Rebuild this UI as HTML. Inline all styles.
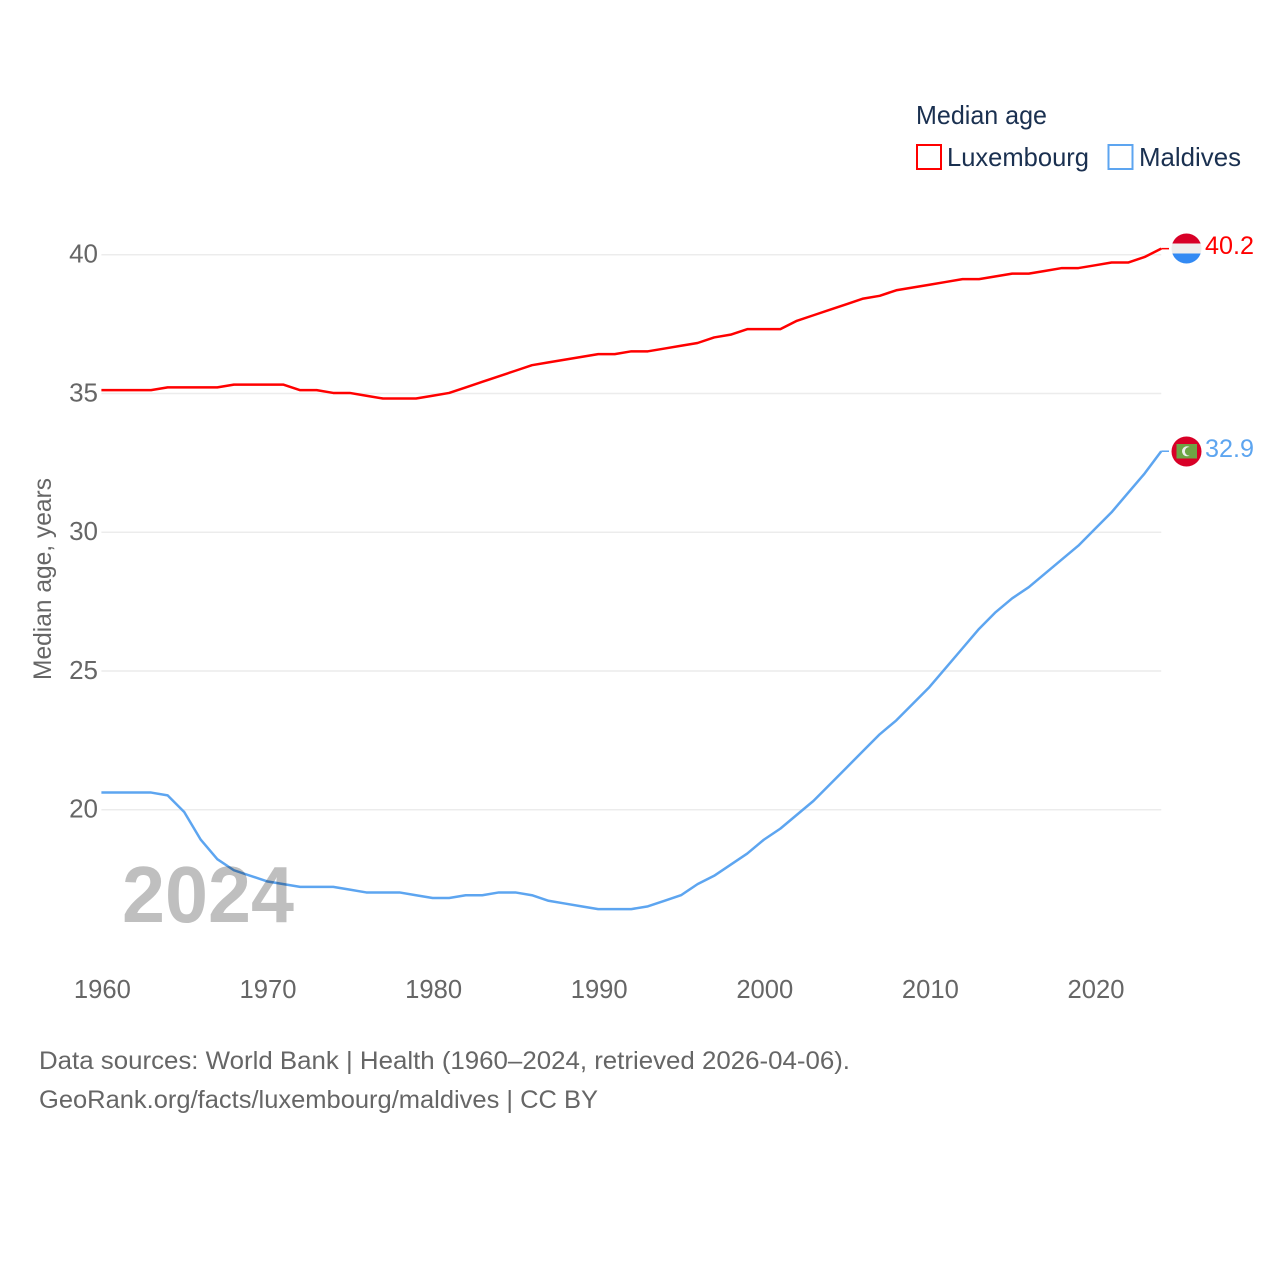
<!DOCTYPE html>
<html lang="en">
<head>
<meta charset="utf-8">
<title>Median age: Luxembourg and Maldives</title>
<style>
html,body{margin:0;padding:0;background:#fff;width:1280px;height:1280px;overflow:hidden}
svg{display:block}
text{font-family:"Liberation Sans",sans-serif}
</style>
</head>
<body>
<svg id="chart" width="1280" height="1280" viewBox="0 0 1280 1280" xmlns="http://www.w3.org/2000/svg">
  <rect width="1280" height="1280" fill="#fff"/>
  <g id="grid"></g>
  <g id="yticks"></g>
  <g id="xticks"></g>
  <text transform="translate(51,680) rotate(-90)" font-size="25" fill="#666666" textLength="202" lengthAdjust="spacingAndGlyphs">Median age, years</text>
  <g id="series"></g>
  <text x="122" y="922" font-size="80" font-weight="700" fill="#000" fill-opacity="0.25" textLength="172" lengthAdjust="spacingAndGlyphs">2024</text>

  <g id="flag-lu">
    <clipPath id="clip-lu"><circle cx="1186.500" cy="248.500" r="15"/></clipPath>
    <g clip-path="url(#clip-lu)">
      <rect x="1171" y="233" width="31" height="10.500" fill="#d80027"/>
      <rect x="1171" y="243.500" width="31" height="10" fill="#eeeeee"/>
      <rect x="1171" y="253.500" width="31" height="10.500" fill="#338af3"/>
    </g>
  </g>
  <g id="flag-mv">
    <circle cx="1186.500" cy="451.500" r="15" fill="#d80027"/>
    <rect x="1176.500" y="444" width="20.500" height="14.500" fill="#6da544"/>
    <circle cx="1187" cy="451.300" r="5" fill="#eeeeee"/>
    <circle cx="1189.200" cy="451.300" r="4.300" fill="#6da544"/>
  </g>
  <text id="value-lu" x="1205" y="254" font-size="25" fill="#ff0000" textLength="49" lengthAdjust="spacingAndGlyphs">40.2</text>
  <text id="value-mv" x="1205" y="457" font-size="25" fill="#5da5f0" textLength="49" lengthAdjust="spacingAndGlyphs">32.9</text>

  <g>
    <text x="916" y="124" font-size="26" fill="#1a3050" textLength="131" lengthAdjust="spacingAndGlyphs">Median age</text>
    <rect x="917" y="145" width="24" height="24" fill="#fff" stroke="#ff0000" stroke-width="2"/>
    <text x="947" y="166" font-size="26" fill="#1a3050" textLength="142" lengthAdjust="spacingAndGlyphs">Luxembourg</text>
    <rect x="1108.500" y="145" width="24" height="24" fill="#fff" stroke="#5da5f0" stroke-width="2"/>
    <text x="1139" y="166" font-size="26" fill="#1a3050" textLength="102" lengthAdjust="spacingAndGlyphs">Maldives</text>
  </g>

  <g>
    <text x="39" y="1069" font-size="25" fill="#666666" textLength="811" lengthAdjust="spacingAndGlyphs">Data sources: World Bank | Health (1960–2024, retrieved 2026-04-06).</text>
    <text x="39" y="1108" font-size="25" fill="#666666" textLength="559" lengthAdjust="spacingAndGlyphs">GeoRank.org/facts/luxembourg/maldives | CC BY</text>
  </g>
</svg>

<script>
const years = [1960,1961,1962,1963,1964,1965,1966,1967,1968,1969,1970,1971,1972,1973,1974,1975,1976,1977,1978,1979,1980,1981,1982,1983,1984,1985,1986,1987,1988,1989,1990,1991,1992,1993,1994,1995,1996,1997,1998,1999,2000,2001,2002,2003,2004,2005,2006,2007,2008,2009,2010,2011,2012,2013,2014,2015,2016,2017,2018,2019,2020,2021,2022,2023,2024];
const luxembourg = [35.1,35.1,35.1,35.1,35.2,35.2,35.2,35.2,35.3,35.3,35.3,35.3,35.1,35.1,35.0,35.0,34.9,34.8,34.8,34.8,34.9,35.0,35.2,35.4,35.6,35.8,36.0,36.1,36.2,36.3,36.4,36.4,36.5,36.5,36.6,36.7,36.8,37.0,37.1,37.3,37.3,37.3,37.6,37.8,38.0,38.2,38.4,38.5,38.7,38.8,38.9,39.0,39.1,39.1,39.2,39.3,39.3,39.4,39.5,39.5,39.6,39.7,39.7,39.9,40.2];
const maldives = [20.6,20.6,20.6,20.6,20.5,19.9,18.9,18.2,17.8,17.6,17.4,17.3,17.2,17.2,17.2,17.1,17.0,17.0,17.0,16.9,16.8,16.8,16.9,16.9,17.0,17.0,16.9,16.7,16.6,16.5,16.4,16.4,16.4,16.5,16.7,16.9,17.3,17.6,18.0,18.4,18.9,19.3,19.8,20.3,20.9,21.5,22.1,22.7,23.2,23.8,24.4,25.1,25.8,26.5,27.1,27.6,28.0,28.5,29.0,29.5,30.1,30.7,31.4,32.1,32.9];
const yTickValues = [20,25,30,35,40];
const xTickValues = [1960,1970,1980,1990,2000,2010,2020];

const NS = 'http://www.w3.org/2000/svg';
const xScale = function (year) { return 101.4 + (year - 1960) * 16.56; };
const yScale = function (value) { return 254.7 + (40 - value) * 27.75; };
const lineOffset = -0.5;

const grid = document.getElementById('grid');
const yticks = document.getElementById('yticks');
const xticks = document.getElementById('xticks');
const series = document.getElementById('series');

yTickValues.forEach(function (v) {
  const line = document.createElementNS(NS, 'line');
  
  
  line.setAttribute('x1', xScale(1960));
  line.setAttribute('x2', xScale(2024));
  line.setAttribute('y1', yScale(v));
  line.setAttribute('y2', yScale(v));
  line.setAttribute('stroke', '#ececec');
  line.setAttribute('stroke-width', '1.500');
  grid.appendChild(line);

  const label = document.createElementNS(NS, 'text');
  
  
  label.setAttribute('x', 98);
  label.setAttribute('y', yScale(v) + 8);
  label.setAttribute('text-anchor', 'end');
  label.setAttribute('font-size', '26');
  label.setAttribute('fill', '#666666');
  label.textContent = v;
  yticks.appendChild(label);
});

xTickValues.forEach(function (y) {
  const label = document.createElementNS(NS, 'text');
  
  
  label.setAttribute('x', xScale(y) + 1);
  label.setAttribute('y', 998);
  label.setAttribute('text-anchor', 'middle');
  label.setAttribute('font-size', '25.600');
  label.setAttribute('fill', '#666666');
  label.textContent = y;
  xticks.appendChild(label);
});

function drawSeries(values, color, key) {
  const points = values.map(function (v, i) { return xScale(years[i]).toFixed(2) + ',' + (yScale(v) + lineOffset).toFixed(2); });
  const path = document.createElementNS(NS, 'polyline');
  
  
  path.setAttribute('points', points.join(' '));
  path.setAttribute('fill', 'none');
  path.setAttribute('stroke', color);
  path.setAttribute('stroke-width', '2.500');
  path.setAttribute('stroke-linejoin', 'round');
  series.appendChild(path);

  const lastY = yScale(values[values.length - 1]) + lineOffset;
  const connector = document.createElementNS(NS, 'line');
  
  
  connector.setAttribute('x1', xScale(years[years.length - 1]));
  connector.setAttribute('x2', 1169);
  connector.setAttribute('y1', lastY);
  connector.setAttribute('y2', lastY);
  connector.setAttribute('stroke', color);
  connector.setAttribute('stroke-width', '1.500');
  series.appendChild(connector);
}
drawSeries(luxembourg, '#ff0000', 'luxembourg');
drawSeries(maldives, '#5da5f0', 'maldives');
</script>
</body>
</html>
